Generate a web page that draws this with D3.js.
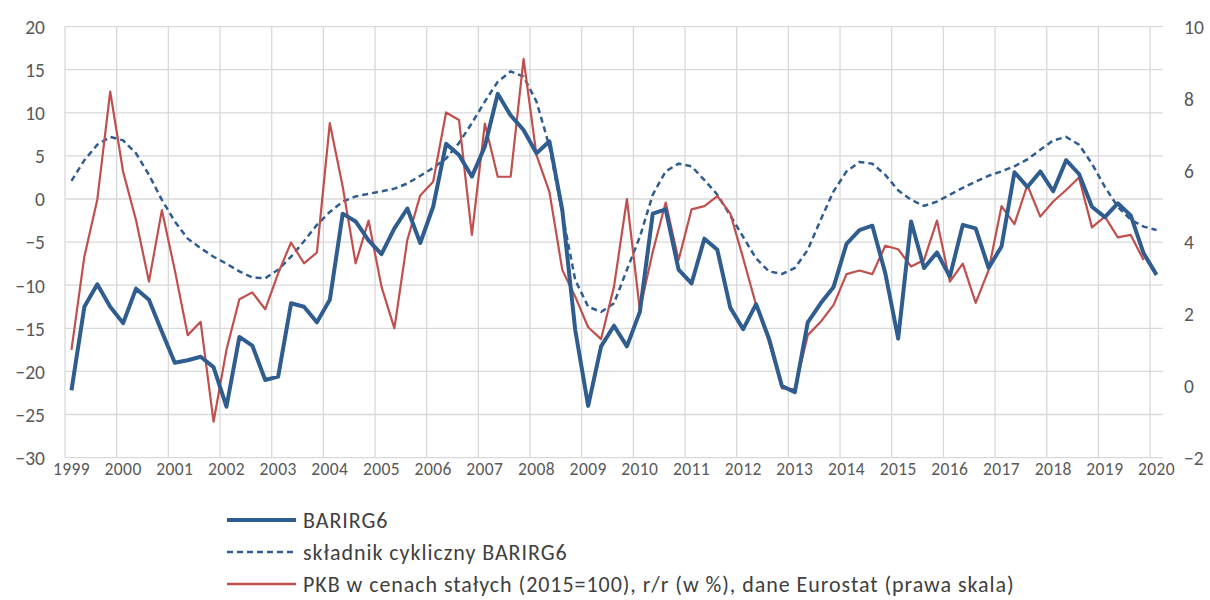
<!DOCTYPE html>
<html><head><meta charset="utf-8">
<script src="https://cdn.jsdelivr.net/npm/d3@7"></script>
<style>body{margin:0;background:#fff;} svg{display:block;font-family:Carlito,Calibri,Lato,sans-serif;}</style>
</head><body><svg id="c" width="1210" height="600"></svg>
<script>
const years = d3.range(1999, 2021);
const quarters = d3.range(0, 85); // 1999Q1 .. 2020Q1
const barirg6 = [-22.2,-12.5,-9.9,-12.5,-14.4,-10.4,-11.7,-15.4,-19.0,-18.7,-18.3,-19.5,-24.1,-16.0,-17.0,-21.0,-20.6,-12.1,-12.5,-14.3,-11.7,-1.7,-2.6,-4.8,-6.4,-3.4,-1.1,-5.1,-0.9,6.4,5.1,2.6,6.1,12.2,9.7,8.0,5.3,6.7,-1.3,-15.2,-24.0,-17.1,-14.7,-17.1,-13.1,-1.7,-1.2,-8.2,-9.8,-4.6,-5.9,-12.6,-15.1,-12.2,-16.2,-21.7,-22.4,-14.3,-12.1,-10.2,-5.2,-3.6,-3.1,-8.6,-16.2,-2.6,-8.0,-6.2,-9.0,-3.0,-3.4,-8.0,-5.5,3.1,1.4,3.2,0.9,4.5,2.9,-0.9,-2.1,-0.5,-1.9,-6.3,-8.8];
const cyclical = [2.1,4.5,6.3,7.2,6.8,5.3,2.8,-0.1,-2.6,-4.6,-5.7,-6.7,-7.5,-8.4,-9.1,-9.2,-8.2,-6.7,-4.9,-3.0,-1.5,-0.3,0.3,0.6,0.9,1.2,1.8,2.7,3.6,4.7,6.5,8.8,11.3,13.6,14.8,14.2,11.3,6.1,-1.7,-9.4,-12.5,-13.1,-12.1,-8.2,-4.4,0.5,3.2,4.1,3.8,2.2,0.5,-1.9,-4.4,-6.9,-8.4,-8.7,-8.0,-5.9,-2.4,0.9,3.2,4.3,4.1,2.8,1.0,-0.1,-0.8,-0.3,0.5,1.3,2.0,2.7,3.2,3.8,4.6,5.7,6.8,7.2,6.3,4.1,1.4,-0.9,-2.4,-3.2,-3.6];
const gdp = [1.0,3.6,5.18,8.19,5.96,4.61,2.90,4.89,3.22,1.41,1.78,-1.0,1.0,2.41,2.60,2.13,3.13,3.99,3.41,3.71,7.31,5.54,3.41,4.60,2.76,1.6,4.06,5.30,5.68,7.61,7.40,4.20,7.30,5.82,5.82,9.10,6.42,5.40,3.22,2.48,1.63,1.30,2.76,5.2,2.11,3.73,5.1,3.50,4.91,5.0,5.28,4.80,3.55,2.25,1.23,-0.07,-0.1,1.41,1.78,2.25,3.11,3.21,3.11,3.90,3.80,3.32,3.50,4.60,2.90,3.40,2.31,3.22,5.0,4.50,5.59,4.71,5.13,5.45,5.80,4.41,4.71,4.13,4.20,3.50,null];
const leftTicks = d3.range(-30, 21, 5);
const rightTicks = d3.range(-2, 11, 2);
const legendLabels = ["BARIRG6", "składnik cykliczny BARIRG6", "PKB w cenach stałych (2015=100), r/r (w %), dane Eurostat (prawa skala)"];

const svg = d3.select("#c");
const L = 65, R = 1163, T = 26.6, B = 457.6;
const x = d3.scaleBand().domain(quarters).range([L, R]).padding(0);
const cx = i => x(i) + x.bandwidth() / 2;
const yL = d3.scaleLinear().domain([-30, 20]).range([B, T]);
const yR = d3.scaleLinear().domain([-2, 10]).range([B, T]);
const grid = "#d9d9d9", txt = "#595959";

svg.append("g").selectAll("line").data(leftTicks).join("line")
  .attr("x1", L).attr("x2", R).attr("y1", d => yL(d)).attr("y2", d => yL(d))
  .attr("stroke", grid).attr("stroke-width", 1.3);
svg.append("g").selectAll("line").data(years).join("line")
  .attr("x1", (d, k) => x(k * 4)).attr("x2", (d, k) => x(k * 4))
  .attr("y1", T).attr("y2", B).attr("stroke", grid).attr("stroke-width", 1.3);

const axL = d3.axisLeft(yL).tickValues(leftTicks).tickSize(0).tickPadding(0);
const gL = svg.append("g").attr("transform", `translate(${L - 20},0)`).call(axL);
const axR = d3.axisRight(yR).tickValues(rightTicks).tickSize(0).tickPadding(0);
const gR = svg.append("g").attr("transform", `translate(1184,0)`).call(axR);
const axB = d3.axisBottom(x).tickValues(years.map((d, k) => k * 4)).tickFormat((d, k) => years[k]).tickSize(0).tickPadding(0);
const gB = svg.append("g").attr("transform", `translate(0,${B + 1})`).call(axB);
[gL, gR, gB].forEach(g => { g.select(".domain").remove(); g.selectAll("text").attr("fill", txt).style("font-family", "Carlito,Calibri,Lato,sans-serif"); });
gL.selectAll("text").style("font-size", "19.5px").attr("dy", "0.35em");
gR.selectAll("text").style("font-size", "19.5px").attr("dy", "0.35em");
gB.selectAll("text").style("font-size", "17.5px").style("letter-spacing", "0.4px").attr("dy", "0.95em");

const lineL = d3.line().defined(d => d != null).x((d, i) => cx(i)).y(d => yL(d));
const lineR = d3.line().defined(d => d != null).x((d, i) => cx(i)).y(d => yR(d));
const blue = "#2f5d90", red = "#c0504d";
svg.append("path").datum(cyclical).attr("d", lineL).attr("fill", "none")
  .attr("stroke", blue).attr("stroke-width", 2.5).attr("stroke-dasharray", "6,4");
svg.append("path").datum(gdp).attr("d", lineR).attr("fill", "none")
  .attr("stroke", red).attr("stroke-width", 2.2).attr("stroke-linejoin", "round");
svg.append("path").datum(barirg6).attr("d", lineL).attr("fill", "none")
  .attr("stroke", blue).attr("stroke-width", 4).attr("stroke-linejoin", "round");

const styles = [{c: blue, w: 4, dash: null}, {c: blue, w: 2.5, dash: "6,4"}, {c: red, w: 2.5, dash: null}];
const lg = svg.append("g");
legendLabels.forEach((t, k) => {
  const yy = 520 + k * 32;
  lg.append("line").attr("x1", 227).attr("x2", 296).attr("y1", yy).attr("y2", yy)
    .attr("stroke", styles[k].c).attr("stroke-width", styles[k].w).attr("stroke-dasharray", styles[k].dash);
  lg.append("text").attr("x", 303).attr("y", yy).attr("dy", "0.35em").attr("fill", "#404040")
    .style("font-size", "22px").style("letter-spacing", "0.95px").text(t);
});
</script></body></html>
